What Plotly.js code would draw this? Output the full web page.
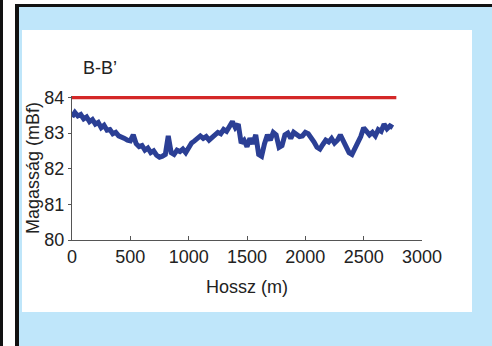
<!DOCTYPE html>
<html>
<head>
<meta charset="utf-8">
<script src="https://cdn.plot.ly/plotly-3.0.1.min.js"></script>
<style>
  html, body { margin: 0; padding: 0; width: 492px; height: 346px; overflow: hidden; background: #ffffff; }
  #strip { position: absolute; left: 0; top: 0; width: 3px; height: 346px; background: #111; }
  #frame { position: absolute; left: 15px; top: 4px; width: 477px; height: 342px; box-sizing: border-box;
           border-left: 4px solid #111; border-top: 3px solid #111; background: #bfe6fa; }
  #chart { position: absolute; left: 22px; top: 30px; width: 450px; height: 282px; background: #ffffff; }
</style>
</head>
<body>
<div id="strip"></div>
<div id="frame"></div>
<div id="chart"></div>
<script>
// Distance along profile (m)
const distance = [
  0,25,50,75,100,125,150,175,200,225,250,275,300,325,350,375,400,425,450,475,
  500,525,550,575,600,625,650,675,700,725,750,775,800,825,850,875,900,925,950,975,
  1000,1025,1050,1075,1100,1125,1150,1175,1200,1225,1250,1275,1300,1325,1350,1375,1400,1425,1450,1475,
  1500,1525,1550,1575,1600,1625,1650,1675,1700,1725,1750,1775,1800,1825,1850,1875,1900,1925,1950,1975,
  2000,2025,2050,2075,2100,2125,2150,2175,2200,2225,2250,2275,2300,2325,2350,2375,2400,2425,2450,2475,
  2500,2525,2550,2575,2600,2625,2650,2675,2700,2725,2750
];
// Terrain elevation (mBf)
const elevation = [
  83.45,83.58,83.48,83.52,83.40,83.45,83.32,83.38,83.25,83.30,83.15,83.22,83.08,83.10,82.98,83.02,82.92,82.90,82.85,82.80,
  82.78,82.95,82.70,82.62,82.65,82.52,82.58,82.45,82.50,82.38,82.32,82.35,82.40,82.92,82.45,82.40,82.52,82.48,82.55,82.45,
  82.60,82.72,82.78,82.85,82.92,82.85,82.90,82.80,82.88,82.95,83.02,82.98,83.10,83.05,83.18,83.32,83.15,83.25,82.72,82.80,
  82.62,82.85,82.70,82.95,82.40,82.35,82.70,82.95,82.80,83.02,82.95,82.60,82.65,82.95,83.00,82.85,83.02,82.95,82.90,82.92,
  83.02,82.98,82.88,82.75,82.60,82.55,82.68,82.80,82.75,82.85,82.72,82.80,82.95,82.78,82.60,82.45,82.40,82.55,82.75,82.90,
  83.15,83.05,82.95,83.02,82.92,83.10,83.05,83.25,83.12,83.20,83.15
];
// Reference level line
const refX = [0, 2780];
const refY = [84, 84];

const xTicks = [0, 500, 1000, 1500, 2000, 2500, 3000];
const yTicks = [80, 81, 82, 83, 84];

const font = { family: 'Liberation Sans, Arial, sans-serif', size: 18, color: '#222' };

const traces = [
  { x: refX, y: refY, type: 'scatter', mode: 'lines', cliponaxis: false,
    line: { color: '#d42828', width: 3.5 }, hoverinfo: 'skip' },
  { x: distance, y: elevation, type: 'scatter', mode: 'lines', cliponaxis: false,
    line: { color: '#2b3f95', width: 5, shape: 'linear' }, hoverinfo: 'skip' }
];

const layout = {
  width: 450, height: 282,
  margin: { l: 50, r: 50, t: 66, b: 72, pad: 0 },
  paper_bgcolor: 'rgba(0,0,0,0)',
  plot_bgcolor: 'rgba(0,0,0,0)',
  showlegend: false,
  font: font,
  title: { text: 'B-B\u2019', font: { family: font.family, size: 18, color: '#222' },
           x: 61/450, xref: 'container', xanchor: 'left',
           y: 1 - 38/282, yref: 'container', yanchor: 'middle' },
  xaxis: {
    range: [0, 3000], tickvals: xTicks, ticktext: xTicks.map(String),
    showgrid: false, zeroline: false, showline: true, linecolor: '#555', linewidth: 1,
    ticks: 'inside', ticklen: 4, tickcolor: '#555',
    tickfont: { family: font.family, size: 18, color: '#222' },
    title: { text: 'Hossz (m)', font: { family: font.family, size: 18, color: '#222' }, standoff: 14 },
    automargin: false, fixedrange: true
  },
  yaxis: {
    range: [80, 84.04], tickvals: yTicks, ticktext: yTicks.map(String),
    showgrid: false, zeroline: false, showline: true, linecolor: '#555', linewidth: 1,
    ticks: 'outside', ticklen: 3, tickcolor: '#555',
    tickfont: { family: font.family, size: 18, color: '#222' },
    title: { text: 'Magasság (mBf)', font: { family: font.family, size: 18, color: '#222' }, standoff: 0 },
    automargin: false, fixedrange: true
  }
};

Plotly.newPlot('chart', traces, layout, { displayModeBar: false, staticPlot: true });
</script>
</body>
</html>
